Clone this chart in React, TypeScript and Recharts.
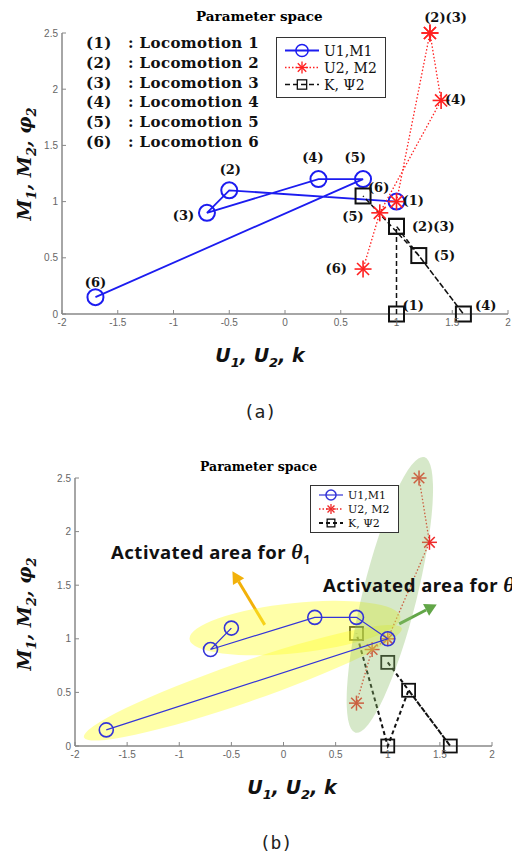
import React from "react";
import { ScatterChart, Scatter, XAxis, YAxis, ReferenceDot, ReferenceLine, Legend } from "recharts";

const xTicks = [-2, -1.5, -1, -0.5, 0, 0.5, 1, 1.5, 2];
const yTicks = [0, 0.5, 1, 1.5, 2, 2.5];

const locomotionIds = ["(1)", "(2)", "(3)", "(4)", "(5)", "(6)"];
const locomotionNames = ["Locomotion 1", "Locomotion 2", "Locomotion 3", "Locomotion 4", "Locomotion 5", "Locomotion 6"];

const seriesNames = ["U1,M1", "U2, M2", "K, \u03A82"];

// (a) locomotion 1..6 in order
const u1m1A = [
  { x: 1, y: 1 }, { x: -0.5, y: 1.1 }, { x: -0.7, y: 0.9 },
  { x: 0.3, y: 1.2 }, { x: 0.7, y: 1.2 }, { x: -1.7, y: 0.15 },
];
const u2m2A = [
  { x: 1, y: 1 }, { x: 1.3, y: 2.5 }, { x: 1.3, y: 2.5 },
  { x: 1.4, y: 1.9 }, { x: 0.85, y: 0.9 }, { x: 0.7, y: 0.4 },
];
const kPsiA = [
  { x: 1, y: 0 }, { x: 1, y: 0.78 }, { x: 1, y: 0.78 },
  { x: 1.6, y: 0 }, { x: 1.2, y: 0.52 }, { x: 0.7, y: 1.05 },
];

const pointLabelsA = [
  { x: -0.49, y: 1.29, text: "(2)" },
  { x: 0.25, y: 1.39, text: "(4)" },
  { x: 0.63, y: 1.39, text: "(5)" },
  { x: -0.91, y: 0.88, text: "(3)" },
  { x: -1.7, y: 0.28, text: "(6)" },
  { x: 0.84, y: 1.13, text: "(6)" },
  { x: 1.15, y: 1.01, text: "(1)" },
  { x: 0.61, y: 0.87, text: "(5)" },
  { x: 1.33, y: 0.78, text: "(2)(3)" },
  { x: 1.43, y: 0.52, text: "(5)" },
  { x: 0.46, y: 0.41, text: "(6)" },
  { x: 1.15, y: 0.08, text: "(1)" },
  { x: 1.8, y: 0.08, text: "(4)" },
  { x: 1.44, y: 2.64, text: "(2)(3)" },
  { x: 1.53, y: 1.91, text: "(4)" },
];

// (b)
const u1m1B = [
  { x: -0.5, y: 1.1 }, { x: -0.7, y: 0.9 }, { x: 0.3, y: 1.2 },
  { x: 0.7, y: 1.2 }, { x: 1, y: 1 }, { x: -1.7, y: 0.15 },
];
const u2m2B = [
  { x: 1.3, y: 2.5 }, { x: 1.4, y: 1.9 }, { x: 1, y: 1 },
  { x: 0.85, y: 0.9 }, { x: 0.7, y: 0.4 },
];
const kPsiB = [
  { x: 1, y: 0.78 }, { x: 1.6, y: 0 }, { x: 1.2, y: 0.52 },
  { x: 1, y: 0 }, { x: 0.7, y: 1.05 },
];

const theta1Area = [{ x: 0.11, y: 1.1 }];
const theta1Area2 = [{ x: -0.39, y: 0.59 }];
const theta2Area = [{ x: 1.02, y: 1.41 }];

const theta1Arrow = [{ x: -0.18, y: 1.13 }, { x: -0.49, y: 1.63 }];
const theta2Arrow = [{ x: 1.11, y: 1.14 }, { x: 1.47, y: 1.32 }];

const SERIF = "'DejaVu Serif', serif";
const TIMES = "'Liberation Serif', serif";

const circleShape = (color: string, r: number, sw: number) => (p: any) =>
  <circle cx={p.cx} cy={p.cy} r={r} fill="none" stroke={color} strokeWidth={sw} />;

const squareShape = (color: string, s: number, sw: number) => (p: any) =>
  <rect x={p.cx - s / 2} y={p.cy - s / 2} width={s} height={s} fill="none" stroke={color} strokeWidth={sw} />;

const starShape = (color: string, s: number, sw: number) => (p: any) => {
  const r = s / 2;
  const d = r * 0.707;
  return (
    <g stroke={color} strokeWidth={sw}>
      <line x1={p.cx - r} y1={p.cy} x2={p.cx + r} y2={p.cy} />
      <line x1={p.cx} y1={p.cy - r} x2={p.cx} y2={p.cy + r} />
      <line x1={p.cx - d} y1={p.cy - d} x2={p.cx + d} y2={p.cy + d} />
      <line x1={p.cx - d} y1={p.cy + d} x2={p.cx + d} y2={p.cy - d} />
    </g>
  );
};

const ellipseShape = (rx: number, ry: number, angle: number, fill: string, opacity: number) => (p: any) =>
  <ellipse cx={p.cx} cy={p.cy} rx={rx} ry={ry} fill={fill} fillOpacity={opacity}
    transform={`rotate(${angle} ${p.cx} ${p.cy})`} />;

const arrowShape = (color: string, w: number, head: number) => (p: any) => {
  const { x1, y1, x2, y2 } = p;
  const a = Math.atan2(y2 - y1, x2 - x1);
  const bx = x2 - head * Math.cos(a);
  const by = y2 - head * Math.sin(a);
  const hw = head * 0.55;
  return (
    <g>
      <line x1={x1} y1={y1} x2={bx} y2={by} stroke={color} strokeWidth={w} />
      <polygon
        points={`${x2},${y2} ${bx + hw * Math.sin(a)},${by - hw * Math.cos(a)} ${bx - hw * Math.sin(a)},${by + hw * Math.cos(a)}`}
        fill={color}
      />
    </g>
  );
};

type Sty = { color: string; width: number; dash?: string; marker: "circle" | "star" | "square" };

const LegendBox = ({ styles, fontSize, sample, rowH, pad }: { styles: Sty[]; fontSize: number; sample: number; rowH: number; pad: number }) => (
  <div style={{ border: "1.3px solid #333", background: "#fff", padding: `${pad}px 8px ${pad}px 8px` }}>
    {styles.map((s, i) => (
      <div key={i} style={{ display: "flex", alignItems: "center", height: rowH }}>
        <svg width={sample} height={rowH} style={{ marginRight: 5 }}>
          <line x1={0} y1={rowH / 2} x2={sample} y2={rowH / 2} stroke={s.color} strokeWidth={s.width} strokeDasharray={s.dash} />
          {s.marker === "circle" && circleShape(s.color, rowH * 0.36, 1.5)({ cx: sample / 2, cy: rowH / 2 })}
          {s.marker === "star" && starShape(s.color, rowH * 0.7, 1.3)({ cx: sample / 2, cy: rowH / 2 })}
          {s.marker === "square" && squareShape(s.color, rowH * 0.55, 1.3)({ cx: sample / 2, cy: rowH / 2 })}
        </svg>
        <span style={{ fontFamily: SERIF, fontSize, color: "#111", whiteSpace: "nowrap" }}>{seriesNames[i]}</span>
      </div>
    ))}
  </div>
);

const stylesA: Sty[] = [
  { color: "#1c1cf0", width: 1.8, marker: "circle" },
  { color: "#ff2020", width: 1.3, dash: "1.5 2", marker: "star" },
  { color: "#111", width: 1.5, dash: "5 3", marker: "square" },
];
const stylesB: Sty[] = [
  { color: "#3434d8", width: 1.2, marker: "circle" },
  { color: "#ee2a2a", width: 1.3, dash: "1.5 2", marker: "star" },
  { color: "#111", width: 2, dash: "4 3", marker: "square" },
];

const tickStyle = { fontSize: 10, fill: "#666", fontFamily: "'Liberation Sans', Arial, sans-serif" };

const axisLabelStyle: React.CSSProperties = {
  position: "absolute", fontFamily: SERIF, fontWeight: "bold", fontStyle: "italic",
  fontSize: 19, whiteSpace: "nowrap", color: "#111", textAlign: "center",
};

const YLabel = ({ cx, cy }: { cx: number; cy: number }) => (
  <div style={{ ...axisLabelStyle, left: cx - 100, top: cy - 14, width: 200, height: 28, lineHeight: "28px", transform: "rotate(-90deg)" }}>
    M<sub style={{ fontSize: 13 }}>1</sub>, M<sub style={{ fontSize: 13 }}>2</sub>, {"\u03C6"}<sub style={{ fontSize: 13 }}>2</sub>
  </div>
);

const XLabel = ({ cx, cy }: { cx: number; cy: number }) => (
  <div style={{ ...axisLabelStyle, left: cx - 100, top: cy - 14, width: 200, height: 28, lineHeight: "28px", fontFamily: "'DejaVu Sans', sans-serif" }}>
    U<sub style={{ fontSize: 13 }}>1</sub>, U<sub style={{ fontSize: 13 }}>2</sub>, k
  </div>
);

const Caption = ({ cx, cy, text }: { cx: number; cy: number; text: string }) => (
  <div style={{ position: "absolute", left: cx - 30, top: cy - 12, width: 60, textAlign: "center", fontFamily: "'DejaVu Sans Mono', monospace", fontSize: 18, lineHeight: "24px", color: "#222" }}>
    {text}
  </div>
);

const noteStyle: React.CSSProperties = {
  position: "absolute", fontFamily: "'Noto Sans', sans-serif", fontWeight: "bold", fontSize: 18.5,
  letterSpacing: 0.5, lineHeight: "22px", whiteSpace: "nowrap", color: "#111",
};

const App = () => {
  return (
    <div style={{ position: "absolute", left: 0, top: 0, width: 512, height: 856, overflow: "hidden", background: "#fff" }}>
      {/* (a) */}
      <div style={{ position: "absolute", left: 0, top: 0 }}>
        <ScatterChart width={512} height={360} margin={{ top: 33, right: 4, left: 22, bottom: 16 }}>
          <XAxis type="number" dataKey="x" domain={[-2, 2]} ticks={xTicks} height={30}
            axisLine={{ stroke: "#888", strokeWidth: 1.5 }} tickLine={{ stroke: "#888" }}
            tickSize={-4} tickMargin={9} tick={tickStyle} />
          <YAxis type="number" dataKey="y" domain={[0, 2.5]} ticks={yTicks} width={40}
            axisLine={{ stroke: "#888", strokeWidth: 1.5 }} tickLine={{ stroke: "#888" }}
            tickSize={-4} tickMargin={8} tick={tickStyle} />
          <Scatter data={u1m1A} isAnimationActive={false} lineType="joint"
            line={{ stroke: stylesA[0].color, strokeWidth: stylesA[0].width }}
            shape={circleShape(stylesA[0].color, 8, 2)} />
          <Scatter data={kPsiA} isAnimationActive={false} lineType="joint"
            line={{ stroke: stylesA[2].color, strokeWidth: stylesA[2].width, strokeDasharray: stylesA[2].dash }}
            shape={squareShape(stylesA[2].color, 15, 2)} />
          <Scatter data={u2m2A} isAnimationActive={false} lineType="joint"
            line={{ stroke: stylesA[1].color, strokeWidth: stylesA[1].width, strokeDasharray: stylesA[1].dash }}
            shape={starShape(stylesA[1].color, 17, 1.6)} />
          {pointLabelsA.map((l, i) => (
            <ReferenceDot key={i} x={l.x} y={l.y} r={0} fill="none" stroke="none" ifOverflow="visible"
              label={{ value: l.text, position: "center", fill: "#111", fontSize: 13, fontWeight: "bold", fontFamily: SERIF }} />
          ))}
          <Legend layout="vertical" align="center" verticalAlign="middle"
            wrapperStyle={{ position: "absolute", left: 276, top: 37, width: "auto" }}
            content={() => <LegendBox styles={stylesA} fontSize={14} sample={34} rowH={17} pad={4} />} />
        </ScatterChart>
      </div>
      <div style={{ position: "absolute", left: 196, top: 6, fontFamily: SERIF, fontWeight: "bold", fontSize: 13.5, lineHeight: "20px" }}>
        Parameter space
      </div>
      {locomotionIds.map((id, i) => (
        <div key={id} style={{ position: "absolute", left: 86, top: 34 + i * 19.8, fontFamily: SERIF, fontWeight: "bold", fontSize: 15, letterSpacing: 0.4, lineHeight: "18px", whiteSpace: "nowrap", color: "#111" }}>
          <span>{id}</span>
          <span style={{ position: "absolute", left: 42 }}>: {locomotionNames[i]}</span>
        </div>
      ))}
      <YLabel cx={24} cy={164} />
      <XLabel cx={260} cy={355} />
      <Caption cx={260} cy={412} text="(a)" />

      {/* (b) */}
      <div style={{ position: "absolute", left: 0, top: 440 }}>
        <ScatterChart width={512} height={360} margin={{ top: 38, right: 20, left: 35, bottom: 24 }}>
          <XAxis type="number" dataKey="x" domain={[-2, 2]} ticks={xTicks} height={30}
            axisLine={{ stroke: "#888", strokeWidth: 1.5 }} tickLine={{ stroke: "#888" }}
            tickSize={-4} tickMargin={9} tick={tickStyle} />
          <YAxis type="number" dataKey="y" domain={[0, 2.5]} ticks={yTicks} width={40}
            axisLine={{ stroke: "#888", strokeWidth: 1.5 }} tickLine={{ stroke: "#888" }}
            tickSize={-4} tickMargin={8} tick={tickStyle} />
          <Scatter data={kPsiB} isAnimationActive={false} lineType="joint"
            line={{ stroke: stylesB[2].color, strokeWidth: stylesB[2].width, strokeDasharray: stylesB[2].dash }}
            shape={squareShape(stylesB[2].color, 13, 1.8)} />
          <Scatter data={u2m2B} isAnimationActive={false} lineType="joint"
            line={{ stroke: stylesB[1].color, strokeWidth: stylesB[1].width, strokeDasharray: stylesB[1].dash }}
            shape={starShape(stylesB[1].color, 15, 1.5)} />
          <Scatter data={theta1Area} isAnimationActive={false} shape={ellipseShape(106, 25, -6, "#ffff30", 0.42)} />
          <Scatter data={theta1Area2} isAnimationActive={false} shape={ellipseShape(168, 20, -19, "#ffff30", 0.42)} />
          <Scatter data={theta2Area} isAnimationActive={false} shape={ellipseShape(142, 27, -76, "#8cc068", 0.36)} />
          <Scatter data={u1m1B} isAnimationActive={false} lineType="joint"
            line={{ stroke: stylesB[0].color, strokeWidth: stylesB[0].width }}
            shape={circleShape(stylesB[0].color, 7, 1.6)} />
          <ReferenceLine segment={theta1Arrow} ifOverflow="visible" shape={arrowShape("#f2b10a", 3, 12)} />
          <ReferenceLine segment={theta2Arrow} ifOverflow="visible" shape={arrowShape("#62a648", 3, 12)} />
          <Legend layout="vertical" align="center" verticalAlign="middle"
            wrapperStyle={{ position: "absolute", left: 310, top: 45, width: "auto" }}
            content={() => <LegendBox styles={stylesB} fontSize={11} sample={24} rowH={14} pad={2} />} />
        </ScatterChart>
      </div>
      <div style={{ position: "absolute", left: 200, top: 457, fontFamily: SERIF, fontWeight: "bold", fontSize: 12.5, lineHeight: "20px" }}>
        Parameter space
      </div>
      <div style={{ ...noteStyle, left: 111, top: 541 }}>
        Activated area for <i style={{ fontFamily: TIMES, fontSize: 22 }}>{"\u03B8"}</i><sub style={{ fontSize: 12 }}>1</sub>
      </div>
      <div style={{ ...noteStyle, left: 323, top: 574 }}>
        Activated area for <i style={{ fontFamily: TIMES, fontSize: 22 }}>{"\u03B8"}</i><sub style={{ fontSize: 12 }}>2</sub>
      </div>
      <YLabel cx={24} cy={614} />
      <XLabel cx={292} cy={787} />
      <Caption cx={276} cy={843} text="(b)" />
    </div>
  );
};

export default App;
